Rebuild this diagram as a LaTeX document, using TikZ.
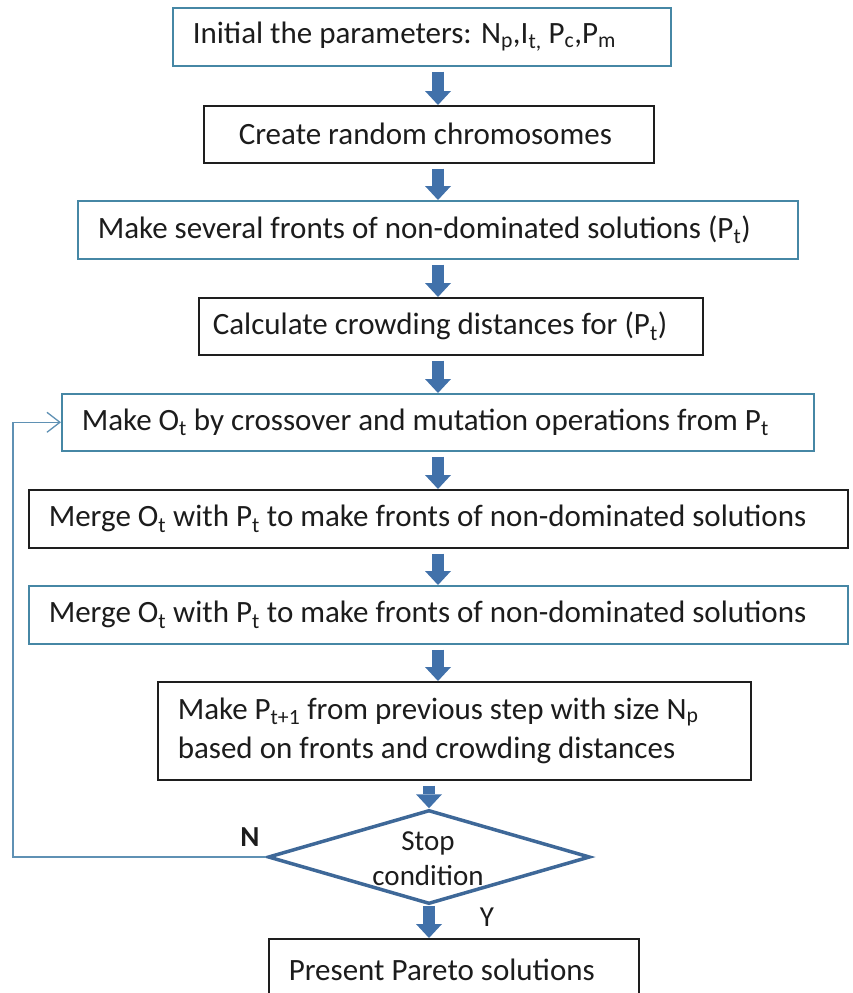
\documentclass[tikz,border=0pt]{standalone}
\usepackage{fontspec}
\setmainfont{Carlito}
\usetikzlibrary{arrows.meta,shapes.geometric}

\definecolor{framecyan}{RGB}{70,135,165}
\definecolor{frameblack}{RGB}{30,30,30}
\definecolor{flowblue}{RGB}{65,113,170}
\definecolor{diablue}{RGB}{62,104,152}
\definecolor{loopblue}{RGB}{95,145,180}
\definecolor{inktext}{RGB}{28,28,28}

% subscript in the text font
\newcommand{\sbs}[1]{\textsubscript{#1}}
% fixed-width, left-aligned line inside a box
\newcommand{\boxtext}[2]{\makebox[#1][l]{#2}}

\begin{document}
\begin{tikzpicture}[x=1pt,y=-1pt,
  every node/.style={font=\fontsize{31}{39}\selectfont, text=inktext},
  stepbox/.style={draw, rectangle, line width=1.6pt, inner xsep=20pt,
    inner ysep=0pt, anchor=north west, fill=white},
  cyanbox/.style={stepbox, draw=framecyan},
  blackbox/.style={stepbox, draw=frameblack},
  flow/.style={draw=flowblue, line width=12pt,
    -{Triangle[length=14pt,width=26pt,line width=0pt]}, shorten <=5pt},
  loopline/.style={draw=loopblue, line width=1.3pt,
    -{Straight Barb[length=13pt,width=20pt]}},
  decision/.style={diamond, draw=diablue, line width=3.5pt, inner sep=0pt,
    minimum width=322pt, minimum height=94pt}
]
\useasboundingbox (0,0) rectangle (852,993);
\clip (0,0) rectangle (852,993);

% process steps
\node[cyanbox, minimum height=58pt] (b1) at (172,7)
  {\boxtext{458pt}{Initial the parameters: N\sbs{p},I\sbs{t,} P\sbs{c},P\sbs{m}}};
\node[blackbox, minimum height=57pt, inner xsep=35pt] (b2) at (203,105)
  {\boxtext{380pt}{Create random chromosomes}};
\node[cyanbox, minimum height=58pt] (b3) at (77,200)
  {\boxtext{680pt}{Make several fronts of non-dominated solutions (P\sbs{t})}};
\node[blackbox, minimum height=57pt, inner xsep=14pt] (b4) at (198,297)
  {\boxtext{476pt}{Calculate crowding distances for (P\sbs{t})}};
\node[cyanbox, minimum height=57pt] (b5) at (61,393)
  {\boxtext{712pt}{Make O\sbs{t} by crossover and mutation operations from P\sbs{t}}};
\node[blackbox, minimum height=58pt] (b6) at (28,489)
  {\boxtext{779pt}{Merge O\sbs{t} with P\sbs{t} to make fronts of non-dominated solutions}};
\node[cyanbox, minimum height=58pt] (b7) at (28,585)
  {\boxtext{779pt}{Merge O\sbs{t} with P\sbs{t} to make fronts of non-dominated solutions}};
\node[blackbox, minimum height=98pt] (b8) at (157,681)
  {\boxtext{553pt}{\begin{tabular}{@{}l@{}}
     Make P\sbs{t+1} from previous step with size N\sbs{p}\\
     based on fronts and crowding distances
   \end{tabular}}};
\node[decision] (dia) at (429,857) {};
\node[align=center, font=\fontsize{29}{35}\selectfont] (diatext) at (428,859)
  {Stop\\condition};
\node[blackbox, minimum height=62pt] (b9) at (268,938)
  {\boxtext{330pt}{Present Pareto solutions}};

% branch labels
\node[font=\fontsize{29}{35}\selectfont\bfseries] (nlab) at (250,837) {N};
\node[font=\fontsize{29}{35}\selectfont] (ylab) at (487,917) {Y};

% main flow
\coordinate (col) at (438,0);
\draw[flow] (b1.south -| col) -- (b2.north -| col);
\draw[flow] (b2.south -| col) -- (b3.north -| col);
\draw[flow] (b3.south -| col) -- (b4.north -| col);
\draw[flow] (b4.south -| col) -- (b5.north -| col);
\draw[flow] (b5.south -| col) -- (b6.north -| col);
\draw[flow] (b6.south -| col) -- (b7.north -| col);
\draw[flow] (b7.south -| col) -- (b8.north -| col);
\draw[flow] (b8.south -| dia.north) -- (dia.north);
\draw[flow, shorten <=0pt] (dia.south) -- (dia.south |- b9.north);

% loop back on "N"
\coordinate (lp) at (13,0);
\draw[loopline] (dia.west) -- (dia.west -| lp) -- (b5.west -| lp) -- (b5.west);
\end{tikzpicture}
\end{document}
